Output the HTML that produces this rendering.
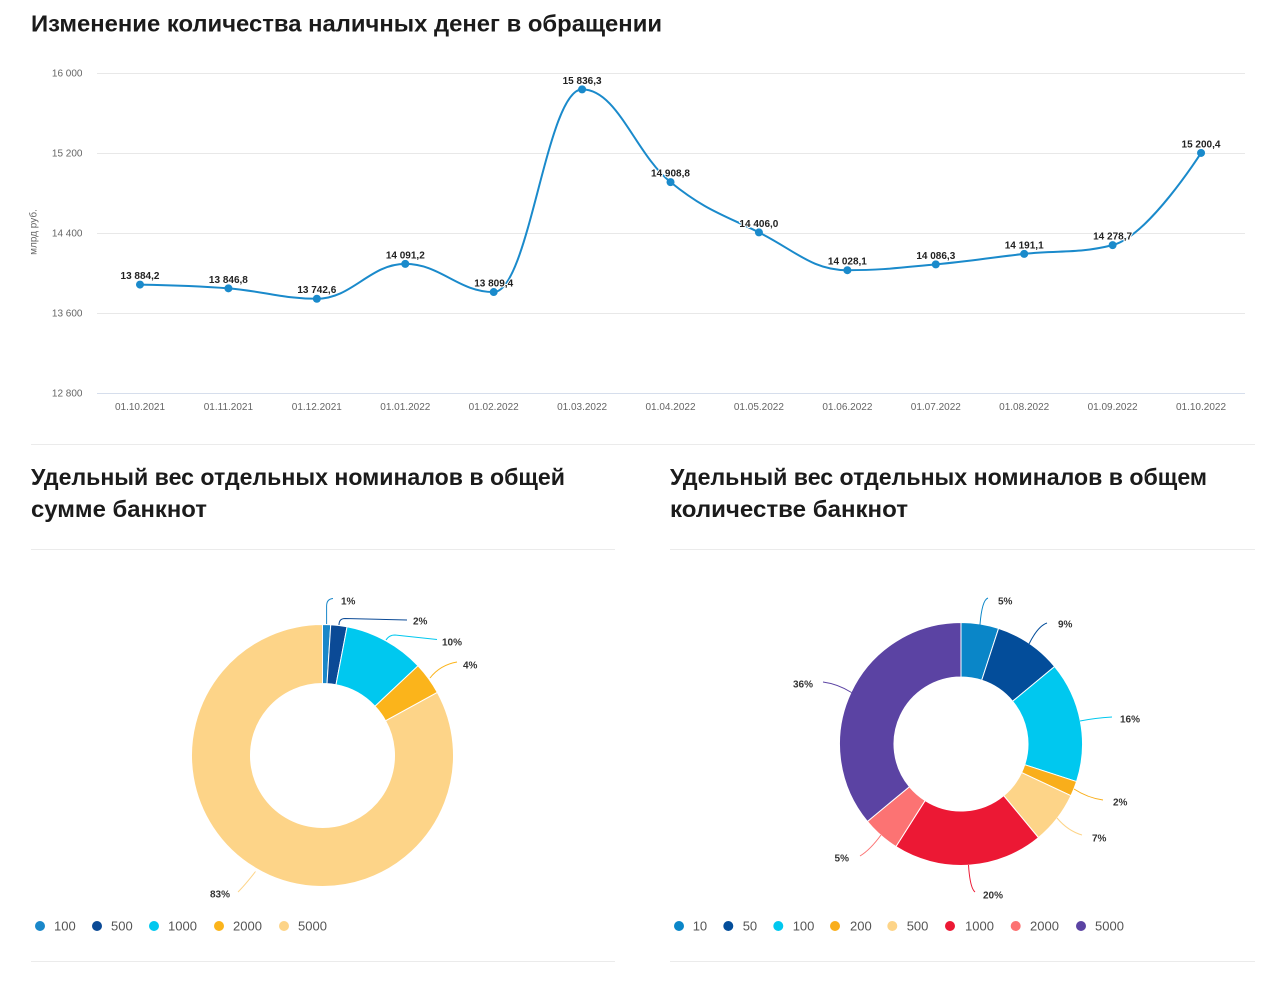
<!DOCTYPE html>
<html>
<head>
<meta charset="utf-8">
<style>
html,body{margin:0;padding:0;background:#fff;}
svg{display:block;}
text{font-family:"Liberation Sans","Noto Sans CJK SC",sans-serif;}
.ttl{font-size:23px;font-weight:bold;fill:#1b1b1b;}
.ax{font-size:10px;fill:#666;}
.dl{font-size:10px;font-weight:bold;fill:#222;stroke:#fff;stroke-width:2px;paint-order:stroke;stroke-linejoin:round;}
.pl{font-size:10px;font-weight:bold;fill:#333;}
.lg{font-size:13px;fill:#555;}
</style>
</head>
<body>
<svg width="1280" height="999" viewBox="0 0 1280 999" xmlns="http://www.w3.org/2000/svg">
<rect width="1280" height="999" fill="#fff"/>

<!-- Title -->
<text class="ttl" x="31" y="31.5" textLength="631" lengthAdjust="spacingAndGlyphs">Изменение количества наличных денег в обращении</text>

<!-- Grid -->
<g stroke="#e8e8e8" stroke-width="1">
<line x1="97" y1="73.5" x2="1245" y2="73.5"/>
<line x1="97" y1="153.5" x2="1245" y2="153.5"/>
<line x1="97" y1="233.5" x2="1245" y2="233.5"/>
<line x1="97" y1="313.5" x2="1245" y2="313.5"/>
</g>
<line x1="97" y1="393.5" x2="1245" y2="393.5" stroke="#d6deec" stroke-width="1"/>

<!-- Y labels -->
<g class="ax" text-anchor="end">
<text x="82.5" y="76.5">16 000</text>
<text x="82.5" y="156.5">15 200</text>
<text x="82.5" y="236.5">14 400</text>
<text x="82.5" y="316.5">13 600</text>
<text x="82.5" y="396.5">12 800</text>
</g>
<text class="ax" transform="translate(36.5,232) rotate(-90)" text-anchor="middle">млрд руб.</text>

<!-- X labels -->
<g class="ax" text-anchor="middle">
<text x="140" y="410">01.10.2021</text>
<text x="228.4" y="410">01.11.2021</text>
<text x="316.8" y="410">01.12.2021</text>
<text x="405.3" y="410">01.01.2022</text>
<text x="493.7" y="410">01.02.2022</text>
<text x="582.1" y="410">01.03.2022</text>
<text x="670.5" y="410">01.04.2022</text>
<text x="758.9" y="410">01.05.2022</text>
<text x="847.4" y="410">01.06.2022</text>
<text x="935.8" y="410">01.07.2022</text>
<text x="1024.2" y="410">01.08.2022</text>
<text x="1112.6" y="410">01.09.2022</text>
<text x="1201" y="410">01.10.2022</text>
</g>

<!-- Line -->
<path d="M140,284.58 C140,284.58 193.05,285.49 228.42,288.32 C263.79,291.15 281.47,298.74 316.84,298.74 C352.21,298.74 369.89,263.88 405.26,263.88 C440.63,263.88 458.31,292.06 493.68,292.06 C529.05,292.06 546.73,89.37 582.1,89.37 C617.47,89.37 635.15,153.51 670.52,182.12 C705.89,210.73 723.57,214.79 758.94,232.40 C794.31,250.01 811.99,270.19 847.36,270.19 C882.73,270.19 900.41,267.63 935.78,264.37 C971.15,261.11 988.83,257.74 1024.2,253.89 C1059.57,250.04 1077.25,253.89 1112.62,245.13 C1147.99,236.37 1201.04,152.96 1201.04,152.96" fill="none" stroke="#1a8acb" stroke-width="2"/>
<g fill="#1a8acb">
<circle cx="140" cy="284.58" r="4"/>
<circle cx="228.42" cy="288.32" r="4"/>
<circle cx="316.84" cy="298.74" r="4"/>
<circle cx="405.26" cy="263.88" r="4"/>
<circle cx="493.68" cy="292.06" r="4"/>
<circle cx="582.1" cy="89.37" r="4"/>
<circle cx="670.52" cy="182.12" r="4"/>
<circle cx="758.94" cy="232.40" r="4"/>
<circle cx="847.36" cy="270.19" r="4"/>
<circle cx="935.78" cy="264.37" r="4"/>
<circle cx="1024.2" cy="253.89" r="4"/>
<circle cx="1112.62" cy="245.13" r="4"/>
<circle cx="1201.04" cy="152.96" r="4"/>
</g>
<g class="dl" text-anchor="middle">
<text x="140" y="279.1">13 884,2</text>
<text x="228.4" y="282.8">13 846,8</text>
<text x="316.8" y="293.2">13 742,6</text>
<text x="405.3" y="258.4">14 091,2</text>
<text x="493.7" y="286.6">13 809,4</text>
<text x="582.1" y="83.9">15 836,3</text>
<text x="670.5" y="176.6">14 908,8</text>
<text x="758.9" y="226.9">14 406,0</text>
<text x="847.4" y="264.7">14 028,1</text>
<text x="935.8" y="258.9">14 086,3</text>
<text x="1024.2" y="248.4">14 191,1</text>
<text x="1112.6" y="239.6">14 278,7</text>
<text x="1201" y="147.5">15 200,4</text>
</g>

<!-- Dividers -->
<g stroke="#ebebeb" stroke-width="1">
<line x1="31" y1="444.5" x2="1255" y2="444.5"/>
<line x1="31" y1="549.5" x2="615" y2="549.5"/>
<line x1="670" y1="549.5" x2="1255" y2="549.5"/>
<line x1="31" y1="961.5" x2="615" y2="961.5"/>
<line x1="670" y1="961.5" x2="1255" y2="961.5"/>
</g>

<!-- Subtitles -->
<text class="ttl" x="31" y="485" textLength="534" lengthAdjust="spacingAndGlyphs">Удельный вес отдельных номиналов в общей</text>
<text class="ttl" x="31" y="517" textLength="176" lengthAdjust="spacingAndGlyphs">сумме банкнот</text>
<text class="ttl" x="670" y="485" textLength="537" lengthAdjust="spacingAndGlyphs">Удельный вес отдельных номиналов в общем</text>
<text class="ttl" x="670" y="517" textLength="238" lengthAdjust="spacingAndGlyphs">количестве банкнот</text>

<!-- Donut 1 -->
<g stroke="#fff" stroke-width="1" stroke-linejoin="round">
<path fill="#1a87c9" d="M322.5,624.5 A131,131 0 0 1 330.73,624.76 L327.02,683.64 A72,72 0 0 0 322.5,683.5 Z"/>
<path fill="#0b4a96" d="M330.73,624.76 A131,131 0 0 1 347.05,626.82 L335.99,684.78 A72,72 0 0 0 327.02,683.64 Z"/>
<path fill="#00c8ef" d="M347.05,626.82 A131,131 0 0 1 418.0,665.82 L374.99,706.21 A72,72 0 0 0 335.99,684.78 Z"/>
<path fill="#fbb41b" d="M418.0,665.82 A131,131 0 0 1 437.30,692.39 L385.59,720.81 A72,72 0 0 0 374.99,706.21 Z"/>
<path fill="#fdd488" d="M437.30,692.39 A131,131 0 1 1 322.5,624.5 L322.5,683.5 A72,72 0 1 0 385.59,720.81 Z"/>
</g>
<g fill="none" stroke-width="1">
<path stroke="#1a87c9" d="M326.6,624 L326.6,606 Q326.6,599 333,598.5"/>
<path stroke="#0b4a96" d="M339,625 Q339,618.5 345,618.5 L407,620"/>
<path stroke="#00c8ef" d="M386,640 Q389,635 395,635 L437,639.5"/>
<path stroke="#fbb41b" d="M430,678 Q440,665 457,662"/>
<path stroke="#fdd488" d="M255.5,871.5 Q245,885 238,892"/>
</g>
<g class="pl">
<text x="341" y="604.5">1%</text>
<text x="413" y="624.5">2%</text>
<text x="442" y="645.5">10%</text>
<text x="463" y="668.5">4%</text>
<text x="230" y="897.5" text-anchor="end">83%</text>
</g>

<!-- Donut 2 -->
<g stroke="#fff" stroke-width="1" stroke-linejoin="round">
<path fill="#0a86c8" d="M961,622.5 A121.5,121.5 0 0 1 998.55,628.45 L981.70,680.28 A67,67 0 0 0 961,677 Z"/>
<path fill="#034d9a" d="M998.55,628.45 A121.5,121.5 0 0 1 1054.62,666.55 L1012.62,701.29 A67,67 0 0 0 981.70,680.28 Z"/>
<path fill="#00c8ef" d="M1054.62,666.55 A121.5,121.5 0 0 1 1076.55,781.55 L1024.72,764.70 A67,67 0 0 0 1012.62,701.29 Z"/>
<path fill="#f9ae1b" d="M1076.55,781.55 A121.5,121.5 0 0 1 1070.94,795.73 L1021.62,772.53 A67,67 0 0 0 1024.72,764.70 Z"/>
<path fill="#fdd488" d="M1070.94,795.73 A121.5,121.5 0 0 1 1038.45,837.62 L1003.71,795.62 A67,67 0 0 0 1021.62,772.53 Z"/>
<path fill="#ec1834" d="M1038.45,837.62 A121.5,121.5 0 0 1 895.90,846.59 L925.10,800.57 A67,67 0 0 0 1003.71,795.62 Z"/>
<path fill="#fc7373" d="M895.90,846.59 A121.5,121.5 0 0 1 867.38,821.45 L909.38,786.71 A67,67 0 0 0 925.10,800.57 Z"/>
<path fill="#5b43a3" d="M867.38,821.45 A121.5,121.5 0 0 1 961,622.5 L961,677 A67,67 0 0 0 909.38,786.71 Z"/>
</g>
<g fill="none" stroke-width="1">
<path stroke="#0a86c8" d="M980,624.5 Q982,600 988,598"/>
<path stroke="#034d9a" d="M1029,644 Q1038,626 1047,623"/>
<path stroke="#00c8ef" d="M1080,721 Q1095,718 1112,717"/>
<path stroke="#f9ae1b" d="M1074,789 Q1088,798 1103,800"/>
<path stroke="#fdd488" d="M1057,818 Q1068,831 1082,835"/>
<path stroke="#ec1834" d="M968.5,865 Q970,888 975,892"/>
<path stroke="#fc7373" d="M881,835 Q870,850 860,856"/>
<path stroke="#5b43a3" d="M851.5,692.5 Q838,684 823,682"/>
</g>
<g class="pl">
<text x="998" y="604.5">5%</text>
<text x="1058" y="627.5">9%</text>
<text x="1120" y="722.5">16%</text>
<text x="1113" y="805.5">2%</text>
<text x="1092" y="841.5">7%</text>
<text x="983" y="898.5">20%</text>
<text x="849" y="861.5" text-anchor="end">5%</text>
<text x="813" y="687.5" text-anchor="end">36%</text>
</g>

<!-- Legend 1 -->
<circle cx="40" cy="926" r="5" fill="#1a87c9"/>
<circle cx="97" cy="926" r="5" fill="#0b4a96"/>
<circle cx="154" cy="926" r="5" fill="#00c8ef"/>
<circle cx="219" cy="926" r="5" fill="#fbb41b"/>
<circle cx="284" cy="926" r="5" fill="#fdd488"/>
<g class="lg">
<text x="54" y="930.5">100</text>
<text x="111" y="930.5">500</text>
<text x="168" y="930.5">1000</text>
<text x="233" y="930.5">2000</text>
<text x="298" y="930.5">5000</text>
</g>

<!-- Legend 2 -->
<circle cx="679" cy="926" r="5" fill="#0a86c8"/>
<circle cx="728.3" cy="926" r="5" fill="#034d9a"/>
<circle cx="778.3" cy="926" r="5" fill="#00c8ef"/>
<circle cx="835" cy="926" r="5" fill="#f9ae1b"/>
<circle cx="892.3" cy="926" r="5" fill="#fdd488"/>
<circle cx="950" cy="926" r="5" fill="#ec1834"/>
<circle cx="1015.7" cy="926" r="5" fill="#fc7373"/>
<circle cx="1081" cy="926" r="5" fill="#5b43a3"/>
<g class="lg">
<text x="692.7" y="930.5">10</text>
<text x="742.7" y="930.5">50</text>
<text x="792.7" y="930.5">100</text>
<text x="850" y="930.5">200</text>
<text x="906.7" y="930.5">500</text>
<text x="965" y="930.5">1000</text>
<text x="1030" y="930.5">2000</text>
<text x="1095" y="930.5">5000</text>
</g>
</svg>
</body>
</html>
